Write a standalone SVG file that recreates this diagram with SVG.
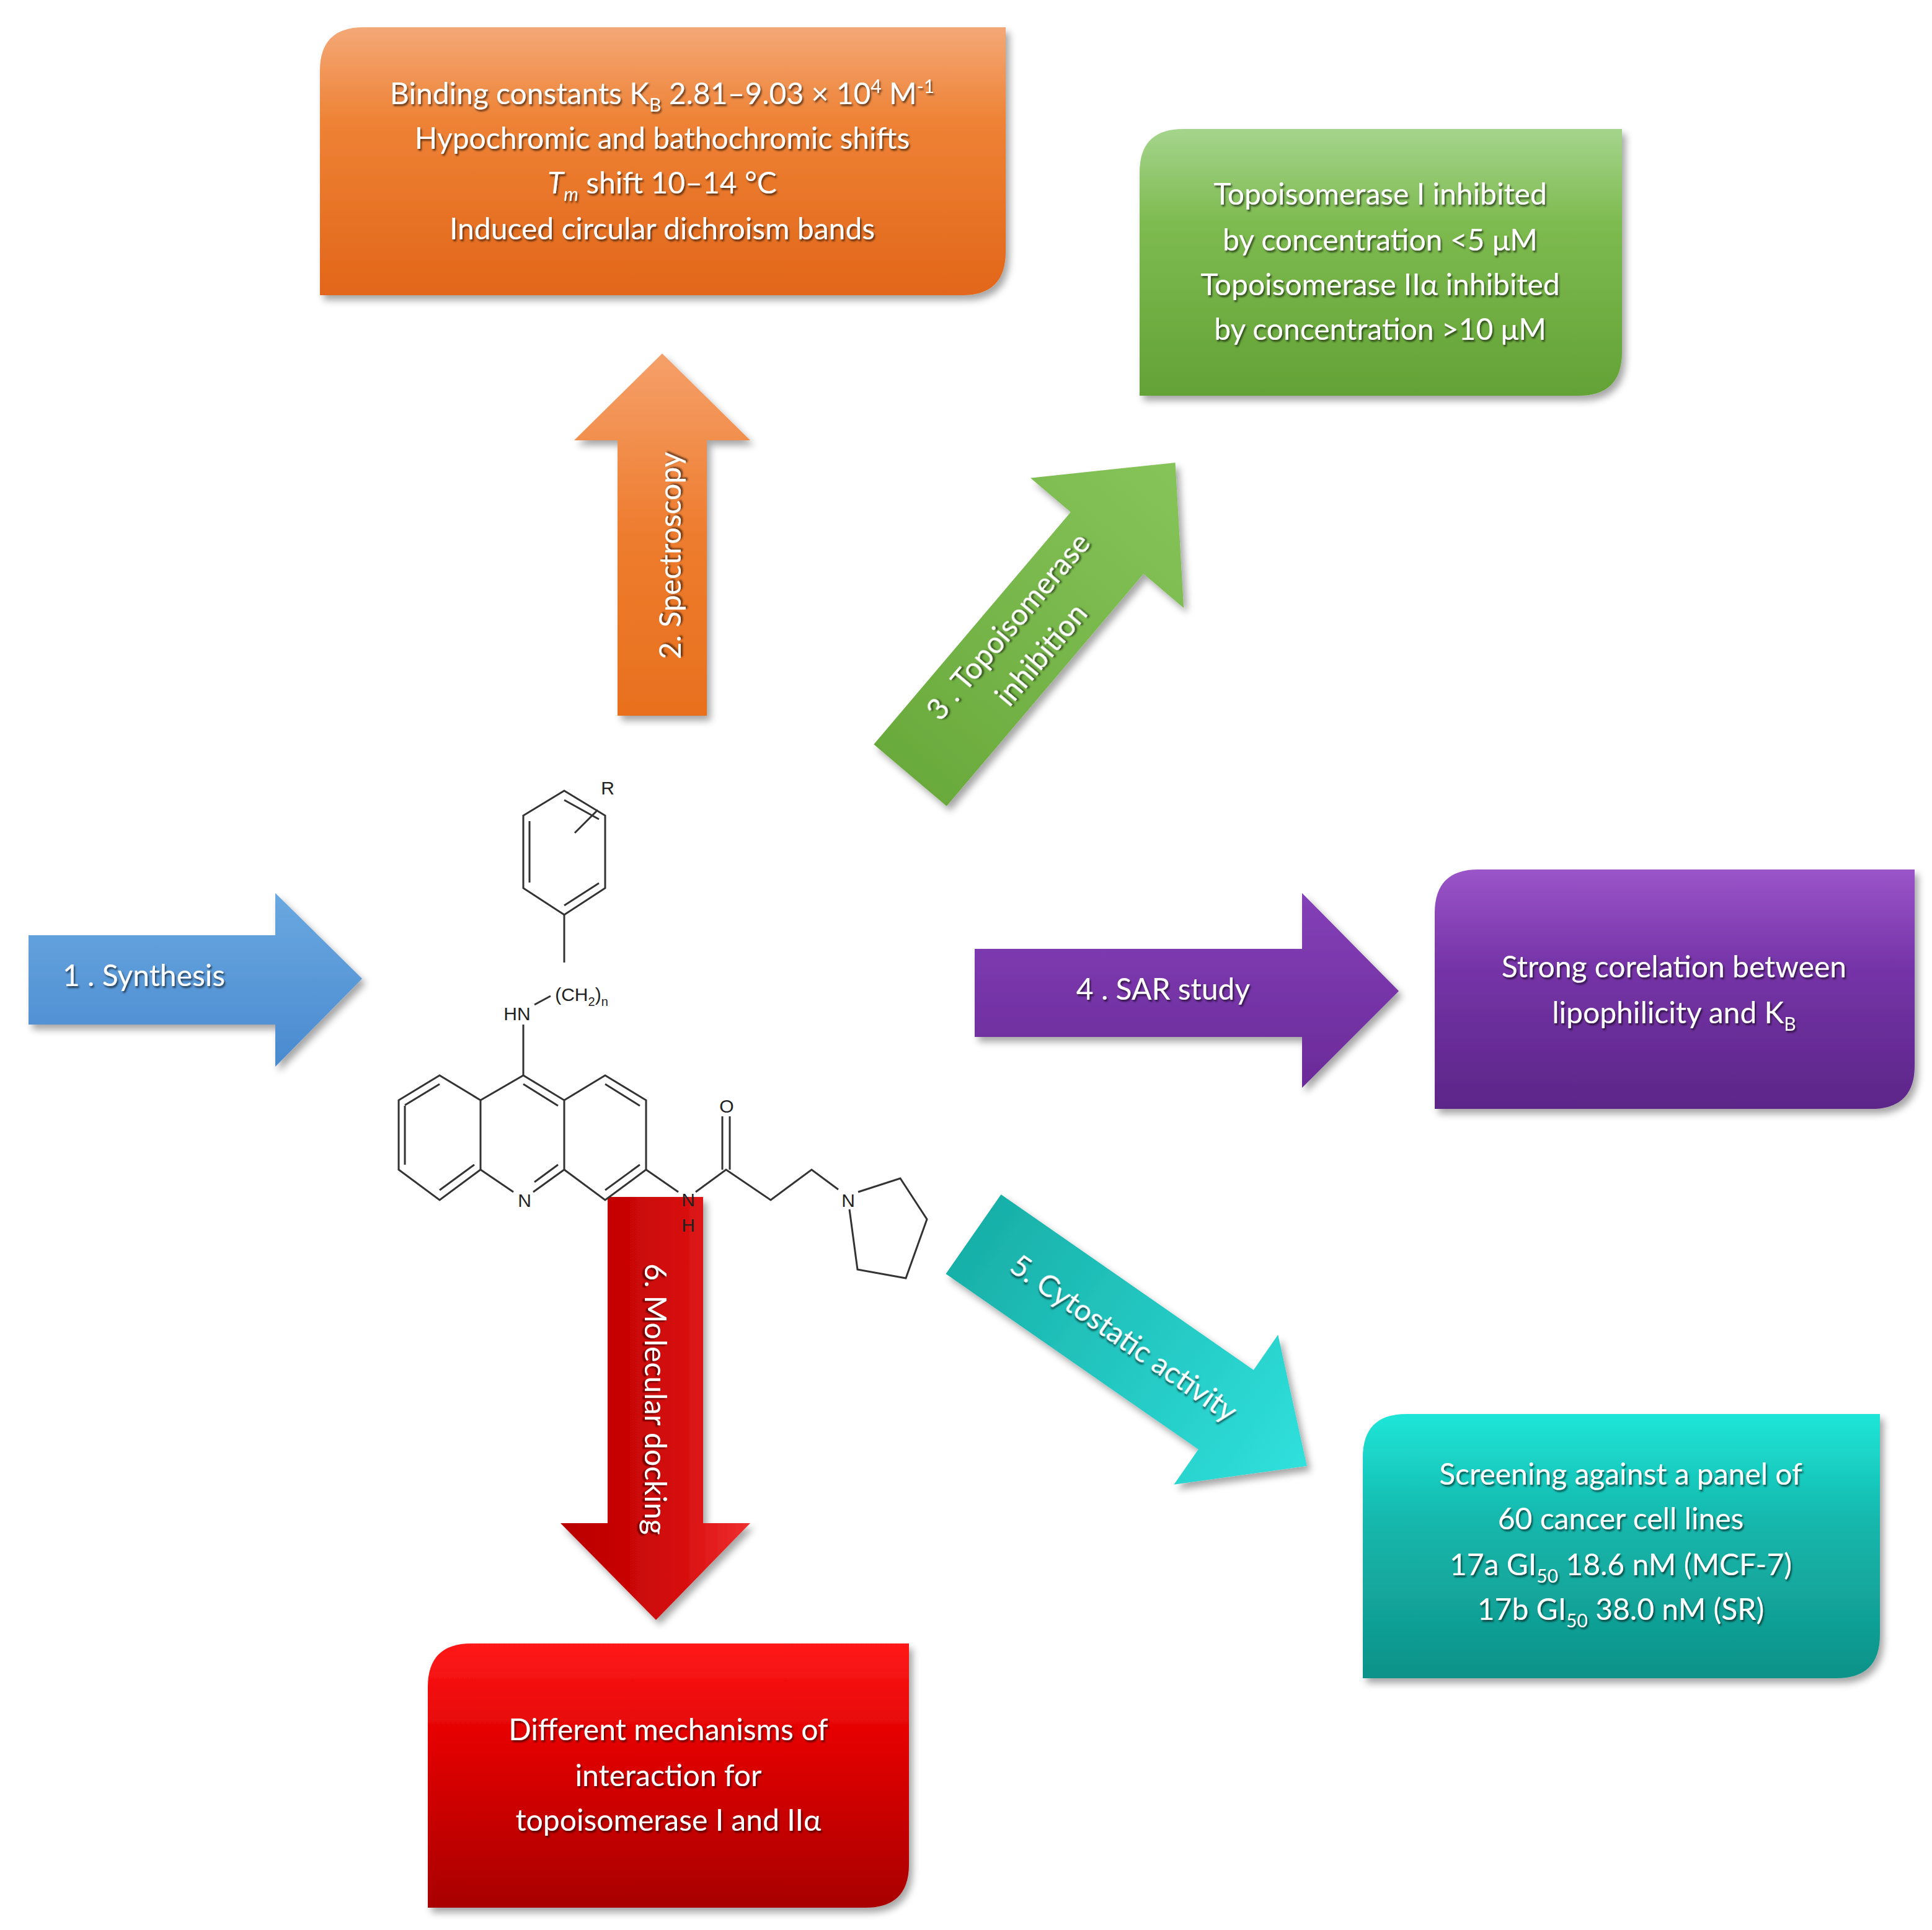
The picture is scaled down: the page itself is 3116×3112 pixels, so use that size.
<svg xmlns="http://www.w3.org/2000/svg" width="3116" height="3112" viewBox="0 0 3116 3112">
<defs>
<linearGradient id="gO" x1="0" y1="0" x2="0" y2="1"><stop offset="0" stop-color="#f4a877"/><stop offset="0.35" stop-color="#ee8235"/><stop offset="1" stop-color="#e2661a"/></linearGradient>
<linearGradient id="gG" x1="0" y1="0" x2="0" y2="1"><stop offset="0" stop-color="#a5d48c"/><stop offset="0.35" stop-color="#7ebb50"/><stop offset="1" stop-color="#63a236"/></linearGradient>
<linearGradient id="gP" x1="0" y1="0" x2="0" y2="1"><stop offset="0" stop-color="#9a55c8"/><stop offset="0.4" stop-color="#7634a8"/><stop offset="1" stop-color="#5c2688"/></linearGradient>
<linearGradient id="gT" x1="0" y1="0" x2="0" y2="1"><stop offset="0" stop-color="#1de6d8"/><stop offset="0.4" stop-color="#16b8ad"/><stop offset="1" stop-color="#0e9288"/></linearGradient>
<linearGradient id="gR" x1="0" y1="0" x2="0" y2="1"><stop offset="0" stop-color="#ff1a1a"/><stop offset="0.4" stop-color="#e00000"/><stop offset="1" stop-color="#a80000"/></linearGradient>
<linearGradient id="aB" x1="0" y1="0" x2="0" y2="1"><stop offset="0" stop-color="#6aa8e0"/><stop offset="1" stop-color="#4a8ad0"/></linearGradient>
<linearGradient id="aO" x1="0" y1="0" x2="0" y2="1"><stop offset="0" stop-color="#f5a06a"/><stop offset="0.5" stop-color="#ee7c2e"/><stop offset="1" stop-color="#e8701e"/></linearGradient>
<linearGradient id="aG" x1="0" y1="0" x2="1" y2="0"><stop offset="0" stop-color="#6aaa3c"/><stop offset="1" stop-color="#86c45a"/></linearGradient>
<linearGradient id="aP" x1="0" y1="0" x2="0" y2="1"><stop offset="0" stop-color="#8440b8"/><stop offset="1" stop-color="#6a2a98"/></linearGradient>
<linearGradient id="aT" x1="0" y1="0" x2="1" y2="0"><stop offset="0" stop-color="#18b0a8"/><stop offset="1" stop-color="#30e0dc"/></linearGradient>
<linearGradient id="aR" x1="0" y1="0" x2="1" y2="0"><stop offset="0" stop-color="#b80000"/><stop offset="0.6" stop-color="#d40a0a"/><stop offset="1" stop-color="#f03030"/></linearGradient>
<filter id="sh" x="-10%" y="-10%" width="125%" height="125%"><feDropShadow dx="6" dy="8" stdDeviation="6" flood-color="#000" flood-opacity="0.35"/></filter>
<filter id="ts" x="-5%" y="-20%" width="110%" height="150%"><feDropShadow dx="2" dy="3" stdDeviation="1.5" flood-color="#000" flood-opacity="0.6"/></filter>
</defs>
<style>
.t{font-family:Lato,"Open Sans","Liberation Sans",sans-serif;font-size:48px;fill:#fff;text-anchor:middle;filter:url(#ts)}
.m{font-family:"Liberation Sans",Arial,sans-serif;font-size:30px;fill:#222;text-anchor:middle}
.b{stroke:#333;stroke-width:3;fill:none}
</style>

<g id="arrow-synthesis" filter="url(#sh)"><path d="M46,1508 H444 V1440 L584,1578 L444,1720 V1652 H46 Z" fill="url(#aB)"/><text class="t" x="232" y="1590">1 . Synthesis</text></g>
<g id="arrow-spectroscopy" filter="url(#sh)"><path d="M996,1154 V710 H926 L1068,570 L1210,710 H1140 V1154 Z" fill="url(#aO)"/><text class="t" transform="translate(1082,896) rotate(-90)" y="16">2. Spectroscopy</text></g>
<g id="arrow-topo" filter="url(#sh)"><g transform="translate(1468,1250) rotate(-49.7)"><path d="M0,-77 H491 V-162 L661,0 L491,162 V77 H0 Z" fill="url(#aG)"/><text class="t" x="285" y="-18">3 . Topoisomerase</text><text class="t" x="285" y="52">inhibition</text></g></g>
<g id="arrow-sar" filter="url(#sh)"><path d="M1572,1530 H2100 V1440 L2256,1598 L2100,1754 V1672 H1572 Z" fill="url(#aP)"/><text class="t" x="1876" y="1612">4 . SAR study</text></g>
<g id="arrow-cyto" filter="url(#sh)"><g transform="translate(1570,1990) rotate(34.8)"><path d="M0,-78 H496 V-147 L655,0 L496,147 V78 H0 Z" fill="url(#aT)"/><text class="t" x="295" y="16">5. Cytostatic activity</text></g></g>
<g id="arrow-docking" filter="url(#sh)"><path d="M980,1930 H1134 V2456 H1210 L1058,2612 L904,2456 H980 Z" fill="url(#aR)"/><text class="t" transform="translate(1056,2256) rotate(90)" y="16">6. Molecular docking</text></g>

<g id="box-spectroscopy" filter="url(#sh)"><path d="M586,44 H1622 V406 Q1622,476 1552,476 H516 V114 Q516,44 586,44 Z" fill="url(#gO)"/>
<text class="t" x="1068" y="168">Binding constants K<tspan font-size="30" dy="12">B</tspan><tspan dy="-12"> 2.81–9.03 × 10</tspan><tspan font-size="30" dy="-18">4</tspan><tspan dy="18"> M</tspan><tspan font-size="30" dy="-18">-1</tspan></text>
<text class="t" x="1068" y="240">Hypochromic and bathochromic shifts</text>
<text class="t" x="1068" y="312"><tspan font-style="italic">T</tspan><tspan font-style="italic" font-size="30" dy="12">m</tspan><tspan dy="-12"> shift 10–14 °C</tspan></text>
<text class="t" x="1068" y="386">Induced circular dichroism bands</text></g>

<g id="box-topo" filter="url(#sh)"><path d="M1908,208 H2616 V568 Q2616,638 2546,638 H1838 V278 Q1838,208 1908,208 Z" fill="url(#gG)"/>
<text class="t" x="2226" y="330">Topoisomerase I inhibited</text>
<text class="t" x="2226" y="404">by concentration &lt;5 μM</text>
<text class="t" x="2226" y="476">Topoisomerase IIα inhibited</text>
<text class="t" x="2226" y="548">by concentration &gt;10 μM</text></g>

<g id="box-sar" filter="url(#sh)"><path d="M2384,1402 H3088 V1718 Q3088,1788 3018,1788 H2314 V1472 Q2314,1402 2384,1402 Z" fill="url(#gP)"/>
<text class="t" x="2700" y="1576">Strong corelation between</text>
<text class="t" x="2700" y="1650">lipophilicity and K<tspan font-size="30" dy="12">B</tspan></text></g>

<g id="box-cyto" filter="url(#sh)"><path d="M2268,2280 H3032 V2636 Q3032,2706 2962,2706 H2198 V2350 Q2198,2280 2268,2280 Z" fill="url(#gT)"/>
<text class="t" x="2614" y="2394">Screening against a panel of</text>
<text class="t" x="2614" y="2466">60 cancer cell lines</text>
<text class="t" x="2614" y="2540">17a GI<tspan font-size="30" dy="12">50</tspan><tspan dy="-12"> 18.6 nM (MCF-7)</tspan></text>
<text class="t" x="2614" y="2612">17b GI<tspan font-size="30" dy="12">50</tspan><tspan dy="-12"> 38.0 nM (SR)</tspan></text></g>

<g id="box-docking" filter="url(#sh)"><path d="M760,2650 H1466 V3006 Q1466,3076 1396,3076 H690 V2720 Q690,2650 760,2650 Z" fill="url(#gR)"/>
<text class="t" x="1078" y="2806">Different mechanisms of</text>
<text class="t" x="1078" y="2880">interaction for</text>
<text class="t" x="1078" y="2952">topoisomerase I and IIα</text></g>

<g id="molecule">
<path class="b" d="M910,1275 L976,1315 L976,1432 L910,1475 L844,1432 L844,1315 Z"/>
<path class="b" d="M854,1324 L854,1423 M910,1290 L966,1321 M966,1424 L910,1460"/>
<path class="b" d="M927,1343 L964,1306"/>
<text class="m" x="980" y="1281">R</text>
<path class="b" d="M910,1475 L910,1552"/>
<text class="m" x="938" y="1614">(CH<tspan font-size="20" dy="8">2</tspan><tspan dy="-8">)</tspan><tspan font-size="20" dy="8">n</tspan></text>
<path class="b" d="M862,1620 L888,1606"/>
<text class="m" x="834" y="1645">HN</text>
<path class="b" d="M844,1652 L844,1734"/>
<path class="b" d="M709,1734 L775,1774 L775,1886 L709,1935 L643,1886 L643,1774 Z"/>
<path class="b" d="M653,1782 L709,1748 M653,1878 L653,1783 M709,1919 L765,1878"/>
<path class="b" d="M775,1774 L844,1734 L910,1774 L910,1886 L860,1922 M828,1922 L775,1886"/>
<path class="b" d="M844,1748 L900,1783 M900,1878 L862,1906"/>
<path class="b" d="M910,1774 L976,1734 L1042,1774 L1042,1886 L976,1935 L910,1886"/>
<path class="b" d="M976,1748 L1032,1783 M1032,1878 L976,1919"/>
<text class="m" x="846" y="1946">N</text>
<path class="b" d="M1042,1886 L1094,1922 M1122,1922 L1171,1886 L1243,1935 L1309,1886 L1352,1918"/>
<text class="m" x="1110" y="1945">N</text>
<text class="m" x="1110" y="1986">H</text>
<path class="b" d="M1165,1886 L1165,1800 M1177,1886 L1177,1800"/>
<text class="m" x="1172" y="1794">O</text>
<text class="m" x="1368" y="1946">N</text>
<path class="b" d="M1384,1922 L1452,1900 L1495,1966 L1461,2061 L1383,2047 L1370,1950"/>
</g>
</svg>
